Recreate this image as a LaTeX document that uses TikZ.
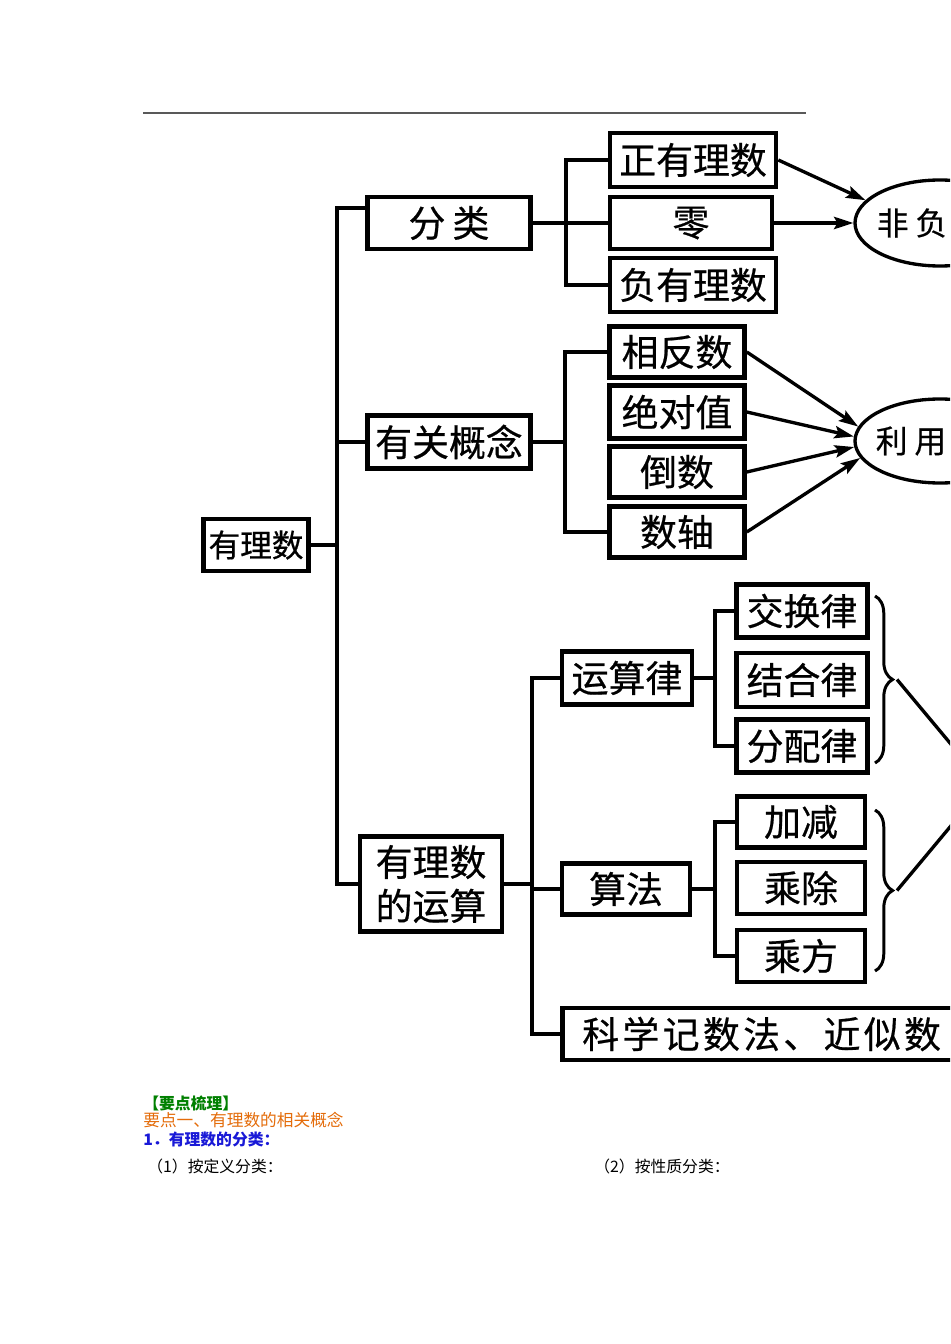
\documentclass[tikz,border=0pt]{standalone}
\usepackage{fontspec}
\setmainfont{Noto Sans CJK SC}
\newfontfamily\chartfont{Noto Sans CJK SC}[FakeBold=0.6]
\usetikzlibrary{arrows.meta,shapes.geometric,decorations.pathreplacing}
\def\px{0.02cm}
\colorlet{box edge}{black}
\definecolor{key green}{RGB}{0,128,0}
\definecolor{key orange}{RGB}{228,108,10}
\definecolor{key blue}{RGB}{25,25,215}
\tikzset{box/.style={draw=box edge, line width=2.6pt, inner sep=0pt, font=\chartfont\fontsize{21}{25}\selectfont},
    wh/.style 2 args={minimum width=#1*\px, minimum height=#2*\px},
    link/.style={draw=box edge, line width=1.9pt},
    arr/.style={link, -{Stealth[length=11pt,width=7pt,inset=2pt]}},
    oval/.style={ellipse, draw=box edge, line width=1.9pt, inner sep=0pt},
    curly/.style={draw=box edge, line width=1.7pt, decorate, decoration={brace, amplitude=10pt}},
    note/.style={anchor=west, inner sep=0pt, font=\fontsize{9}{11}\selectfont}}

\begin{document}
\begin{tikzpicture}[x=\px, y=-\px]
    \useasboundingbox (0,0) rectangle (950,1344);
    \fill[white] (0,0) rectangle (950,1344);
    \clip (0,0) rectangle (950,1344);
    \draw[black!65, line width=1.1pt] (143,113) -- (806,113);

    \node[box, wh={105}{52}, font=\chartfont\fontsize{18}{22}\selectfont] (root) at (256,545) {有理数};
    \node[box, wh={163}{52}] (cls) at (449,223) {分\hspace{4pt}类};
    \node[box, wh={163}{53}] (concept) at (449,442) {有关概念};
    \node[box, wh={142}{95}, align=center] (calc) at (431,884) {有理数\\的运算};

    \node[box, wh={166}{54}] (pos) at (693,160) {正有理数};
    \node[box, wh={162}{52}] (zero) at (691,223) {零};
    \node[box, wh={166}{54}] (neg) at (693,285) {负有理数};
    \node[oval, minimum width=170*\px, minimum height=86*\px] (nonneg) at (940,223) {};
    \node[inner sep=0pt, font=\chartfont\fontsize{18}{22}\selectfont] (nonnegtext) at (912,223) {非\hspace{4pt}负};

    \node[box, wh={135}{51}] (opp) at (677,352) {相反数};
    \node[box, wh={135}{53}] (absval) at (677,412) {绝对值};
    \node[box, wh={135}{51}] (recip) at (677,472) {倒数};
    \node[box, wh={135}{51}] (axis) at (677,532) {数轴};
    \node[oval, minimum width=170*\px, minimum height=84*\px] (apply) at (940,441) {};
    \node[inner sep=0pt, font=\chartfont\fontsize{18}{22}\selectfont] (applytext) at (911,441) {利\hspace{4pt}用};

    \node[box, wh={130}{53}] (laws) at (627,678) {运算律};
    \node[box, wh={131}{53}] (comm) at (802,611) {交换律};
    \node[box, wh={131}{54}] (assoc) at (802,680) {结合律};
    \node[box, wh={131}{53}] (dist) at (802,746) {分配律};

    \node[box, wh={128}{51}] (algo) at (626,889) {算法};
    \node[box, wh={128}{51}] (addsub) at (801,822) {加减};
    \node[box, wh={128}{52}] (muldiv) at (801,888) {乘除};
    \node[box, wh={128}{52}] (power) at (801,956) {乘方};

    \node[box, anchor=west, text width=410*\px, inner xsep=20*\px, minimum height=52*\px, align=left] (sci) at (560,1034) {\addfontfeature{LetterSpace=9}科学记数法、近似数};

    \coordinate (trunktop) at (337,208);
    \coordinate (trunkbot) at (337,884);
    \coordinate (clsfork) at (566,223);
    \coordinate (conceptfork) at (565,442);
    \coordinate (calcfork) at (532,884);
    \coordinate (lawsfork) at (715,678);
    \coordinate (algofork) at (715,889);

    \draw[link] (root.east) -- (root.east -| trunktop);
    \draw[link] (cls.west |- trunktop) -- (trunktop) -- (trunkbot) -- (calc.west);
    \draw[link] (concept.west) -- (concept.west -| trunktop);

    \draw[link] (cls.east) -- (zero.west);
    \draw[link] (pos.west) -| (clsfork) |- (neg.west);
    \draw[arr] (pos.east) -- (nonneg.163);
    \draw[arr] (zero.east) -- (nonneg.west);

    \draw[link] (concept.east) -- (conceptfork);
    \draw[link] (opp.west) -| (conceptfork) |- (axis.west);
    \draw[arr] (opp.east) -- (apply.170);
    \draw[arr] (absval.east) -- (apply.177);
    \draw[arr] (recip.east) -- (apply.184);
    \draw[arr] (axis.east) -- (apply.192);

    \draw[link] (calc.east) -- (calcfork);
    \draw[link] (laws.west) -| (calcfork) |- (sci.west);
    \draw[link] (algo.west) -- (algo.west -| calcfork);

    \draw[link] (laws.east) -- (lawsfork);
    \draw[link] (comm.west) -| (lawsfork) |- (dist.west);
    \draw[link] (algo.east) -- (algofork);
    \draw[link] (addsub.west) -| (algofork) |- (power.west);

    \draw[curly] (875,596) -- (875,763) coordinate[midway, xshift=22*\px] (lawstip);
    \draw[curly] (875,810) -- (875,971) coordinate[midway, xshift=22*\px] (algotip);
    \coordinate (goal) at (985,785);
    \draw[link] (lawstip) -- (goal);
    \draw[link] (algotip) -- (goal);

    \node[note, text=key green] (heading) at (143,1103) {\bfseries 【要点梳理】};
    \node[note, text=key orange, font=\fontsize{9.5}{11}\selectfont] (point) at (143,1120) {要点一、有理数的相关概念};
    \node[note, text=key blue] (item) at (143,1140) {\bfseries 1．有理数的分类：};
    \node[note] (bydef) at (147,1166) {（1）按定义分类：};
    \node[note] (byprop) at (594,1166) {（2）按性质分类：};
\end{tikzpicture}
\end{document}
